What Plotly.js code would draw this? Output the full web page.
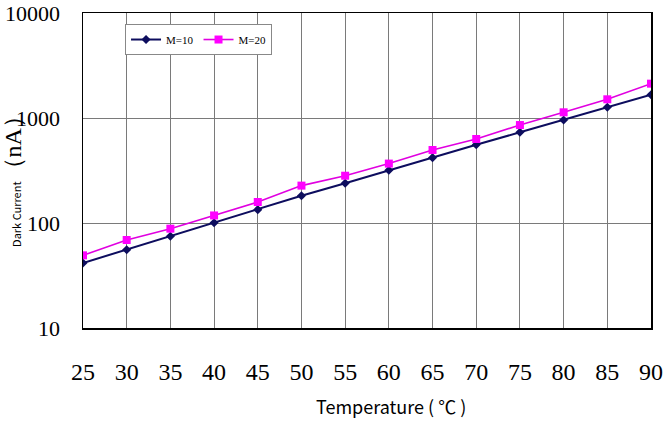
<!DOCTYPE html>
<html>
<head>
<meta charset="utf-8">
<script src="https://cdn.plot.ly/plotly-3.0.1.min.js"></script>
<style>html,body{margin:0;padding:0;background:#fff;}#chart{width:666px;height:432px;}</style>
</head>
<body>
<div id="chart"></div>
<script>
const temperature = [25, 30, 35, 40, 45, 50, 55, 60, 65, 70, 75, 80, 85, 90];
const darkM10 = [41.6, 55.7, 74.7, 100.7, 134, 182, 239, 318, 419, 557, 731, 957, 1265, 1667];
const darkM20 = [49.2, 68.9, 88.3, 118, 158.5, 227, 282, 368, 496, 631, 857, 1133, 1507, 2123];
const yTickVals = [10, 100, 1000, 10000];
const yTickText = ['10', '100', '1000', '10000'];
const xTickVals = [25, 30, 35, 40, 45, 50, 55, 60, 65, 70, 75, 80, 85, 90];

const traces = [
  {
    x: temperature, y: darkM10, name: 'M=10', type: 'scatter', mode: 'lines+markers',
    line: {color: '#0d0d5e', width: 2},
    marker: {symbol: 'diamond', size: 7, color: '#0d0d5e'}
  },
  {
    x: temperature, y: darkM20, name: 'M=20', type: 'scatter', mode: 'lines+markers',
    line: {color: '#e000e0', width: 1.6},
    marker: {symbol: 'square', size: 8, color: '#ff00ff'}
  }
];

const layout = {
  width: 666, height: 432,
  margin: {l: 83, r: 15, t: 13, b: 104},
  paper_bgcolor: '#fff', plot_bgcolor: '#fff',
  showlegend: true,
  legend: {
    x: 0.074, y: 0.965, xanchor: 'left', yanchor: 'top',
    orientation: 'h', bgcolor: '#fff', bordercolor: '#888', borderwidth: 1,
    font: {family: 'Liberation Serif', size: 11, color: '#000'},
    itemwidth: 30
  },
  xaxis: {
    range: [25, 90], tickvals: xTickVals, ticktext: xTickVals.map(String),
    showgrid: true, gridcolor: '#7a7a7a', gridwidth: 1,
    showline: true, linecolor: '#000', linewidth: 1.5, mirror: true,
    ticks: '', zeroline: false, ticklabelstandoff: 22,
    tickfont: {family: 'Liberation Serif', size: 24, color: '#000'}
  },
  yaxis: {
    type: 'log', range: [1, 4], tickvals: yTickVals, ticktext: yTickText,
    showgrid: true, gridcolor: '#7a7a7a', gridwidth: 1,
    showline: true, linecolor: '#000', linewidth: 1.5, mirror: true,
    ticks: '', zeroline: false, ticklabelstandoff: 17,
    tickfont: {family: 'Liberation Serif', size: 22, color: '#000'}
  },
  annotations: [
    {
      xref: 'paper', yref: 'paper', x: -0.122, y: 0.485, xanchor: 'center', yanchor: 'middle',
      textangle: -90, showarrow: false,
      text: '<span style="font-family:Noto Sans CJK SC;font-size:11px">Dark Current</span><span style="font-family:Liberation Serif;font-size:24px">（nA）</span>',
      font: {color: '#000', size: 11}
    },
    {
      xref: 'paper', yref: 'paper', x: 0.543, y: -0.247, xanchor: 'center', yanchor: 'middle',
      showarrow: false, text: 'Temperature ( ℃ )',
      font: {family: 'Noto Sans CJK SC', size: 18, color: '#000'}
    }
  ]
};

Plotly.newPlot('chart', traces, layout, {displayModeBar: false, staticPlot: true});
</script>
</body>
</html>
